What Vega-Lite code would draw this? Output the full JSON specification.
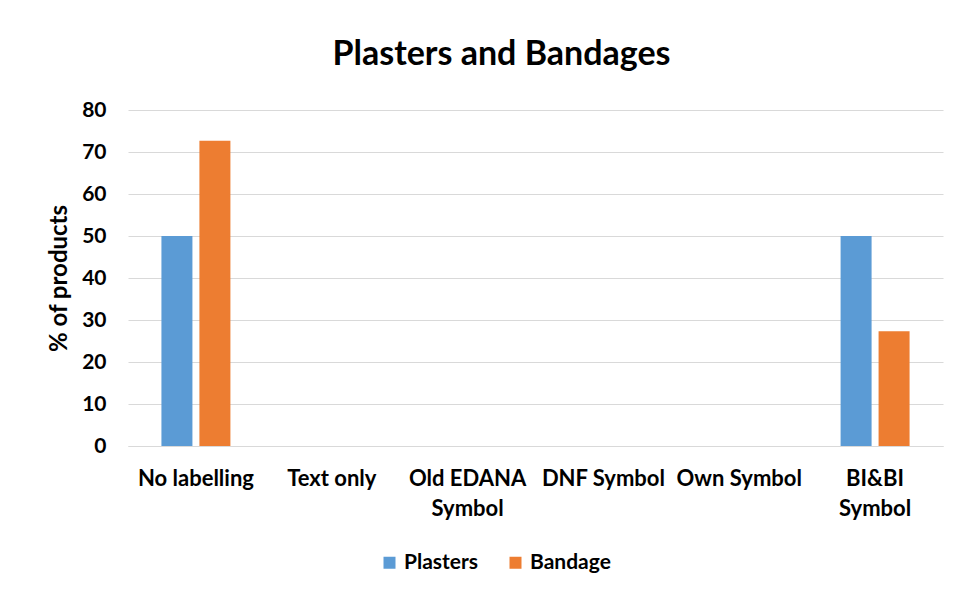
{
  "$schema": "https://vega.github.io/schema/vega-lite/v6.json",
  "autosize": "none",
  "width": 815,
  "height": 336,
  "padding": {"left": 128, "top": 110, "right": 18, "bottom": 148},
  "background": "white",
  "title": {
    "text": "Plasters and Bandages",
    "font": "Lato",
    "fontSize": 34,
    "fontWeight": "bold",
    "color": "#000000",
    "anchor": "middle",
    "frame": "group",
    "dx": -34,
    "offset": 27
  },
  "data": {
    "values": [
      {"category": "No labelling", "series": "Plasters", "value": 50},
      {"category": "No labelling", "series": "Bandage", "value": 72.7},
      {"category": "Text only", "series": "Plasters", "value": 0},
      {"category": "Text only", "series": "Bandage", "value": 0},
      {"category": "Old EDANA Symbol", "series": "Plasters", "value": 0},
      {"category": "Old EDANA Symbol", "series": "Bandage", "value": 0},
      {"category": "DNF Symbol", "series": "Plasters", "value": 0},
      {"category": "DNF Symbol", "series": "Bandage", "value": 0},
      {"category": "Own Symbol", "series": "Plasters", "value": 0},
      {"category": "Own Symbol", "series": "Bandage", "value": 0},
      {"category": "BI&BI Symbol", "series": "Plasters", "value": 50},
      {"category": "BI&BI Symbol", "series": "Bandage", "value": 27.3}
    ]
  },
  "mark": {"type": "bar"},
  "encoding": {
    "x": {
      "field": "category",
      "type": "nominal",
      "sort": ["No labelling", "Text only", "Old EDANA Symbol", "DNF Symbol", "Own Symbol", "BI&BI Symbol"],
      "scale": {"paddingInner": 0, "paddingOuter": 0},
      "axis": {
        "title": null,
        "labelAngle": 0,
        "labelFont": "Lato",
        "labelFontSize": 22,
        "labelFontWeight": "bold",
        "labelColor": "#000000",
        "labelPadding": 22,
        "labelLineHeight": 30,
        "ticks": false,
        "domain": true,
        "domainColor": "#d9d9d9",
        "labelExpr": "datum.value == 'Old EDANA Symbol' ? ['Old EDANA', 'Symbol'] : datum.value == 'BI&BI Symbol' ? ['BI&BI', 'Symbol'] : datum.value"
      }
    },
    "xOffset": {
      "field": "series",
      "type": "nominal",
      "sort": ["Plasters", "Bandage"],
      "scale": {"paddingInner": 0.184, "paddingOuter": 0.88}
    },
    "y": {
      "field": "value",
      "type": "quantitative",
      "scale": {"domain": [0, 80], "nice": false},
      "axis": {
        "title": "% of products",
        "titleFont": "Lato",
        "titleFontSize": 24,
        "titleFontWeight": "bold",
        "titleColor": "#000000",
        "titlePadding": 10,
        "values": [0, 10, 20, 30, 40, 50, 60, 70, 80],
        "labelFont": "Lato",
        "labelFontSize": 21,
        "labelFontWeight": "bold",
        "labelColor": "#000000",
        "labelPadding": 22,
        "ticks": false,
        "domain": false,
        "grid": true,
        "gridColor": "#d9d9d9",
        "gridWidth": 1
      }
    },
    "color": {
      "field": "series",
      "type": "nominal",
      "sort": ["Plasters", "Bandage"],
      "scale": {"domain": ["Plasters", "Bandage"], "range": ["#5b9bd5", "#ed7d31"]},
      "legend": {
        "title": null,
        "orient": "none",
        "direction": "horizontal",
        "legendX": 251,
        "legendY": 442,
        "symbolType": "square",
        "symbolSize": 144,
        "symbolStrokeWidth": 0,
        "labelFont": "Lato",
        "labelFontSize": 21,
        "labelFontWeight": "bold",
        "labelColor": "#000000",
        "columnPadding": 26,
        "labelOffset": 4
      }
    }
  },
  "config": {
    "view": {"stroke": null}
  }
}
